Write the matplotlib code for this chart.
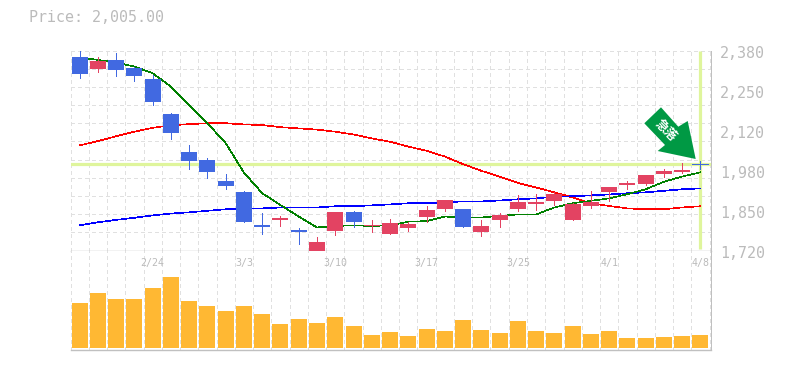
import numpy as np
import matplotlib
matplotlib.use('Agg')
import matplotlib.pyplot as plt
from matplotlib.patches import Polygon

plt.rcParams['font.family'] = ['DejaVu Sans Mono']

# candles, one entry per trading day
opens = [2358, 2320, 2349, 2322, 2286, 2170, 2045, 2019, 1949, 1913, 1804, 1821, 1788, 1720, 1784, 1847, 1801, 1774,
         1794, 1831, 1857, 1857, 1781, 1821, 1857, 1873, 1883, 1820, 1867, 1913, 1936, 1939, 1972, 1979, 2005]
closes = [2304, 2345, 2316, 2296, 2210, 2108, 2015, 1979, 1933, 1814, 1798, 1827, 1781, 1748, 1847, 1814, 1804, 1811,
          1807, 1854, 1887, 1798, 1801, 1837, 1880, 1880, 1906, 1873, 1880, 1930, 1943, 1969, 1982, 1986, 2005]
highs = [2382, 2358, 2372, 2325, 2299, 2174, 2068, 2025, 1972, 1916, 1844, 1834, 1794, 1764, 1847, 1850, 1821, 1824,
         1814, 1867, 1887, 1857, 1821, 1844, 1903, 1906, 1913, 1877, 1916, 1930, 1949, 1969, 1989, 2009, 2015]
lows = [2290, 2310, 2297, 2279, 2200, 2088, 1989, 1959, 1923, 1814, 1774, 1801, 1741, 1720, 1771, 1797, 1781, 1774,
        1784, 1814, 1850, 1798, 1768, 1798, 1850, 1854, 1870, 1820, 1860, 1883, 1923, 1936, 1962, 1976, 1989]

ma_green = [2357, 2349, 2340, 2327, 2305, 2261, 2200, 2140, 2074, 1977, 1909, 1870, 1832, 1796, 1801, 1803, 1801, 1803,
            1815, 1817, 1832, 1829, 1829, 1834, 1839, 1839, 1862, 1876, 1884, 1892, 1906, 1922, 1947, 1964, 1978]
ma_red = [2067, 2081, 2097, 2112, 2125, 2133, 2137, 2140, 2140, 2136, 2134, 2127, 2123, 2119, 2112, 2103, 2090, 2079,
          2063, 2049, 2030, 2005, 1983, 1964, 1943, 1928, 1912, 1895, 1876, 1867, 1859, 1856, 1856, 1862, 1866]
ma_blue = [1803, 1813, 1821, 1828, 1836, 1842, 1846, 1851, 1856, 1858, 1859, 1862, 1862, 1862, 1866, 1866, 1869, 1872,
           1876, 1876, 1879, 1882, 1882, 1885, 1889, 1892, 1898, 1899, 1902, 1905, 1909, 1912, 1917, 1922, 1925]

volume = [45, 55, 49, 49, 60, 71, 47, 42, 37, 42, 34, 24, 29, 25, 31, 22, 13, 16,
          12, 19, 17, 28, 18, 15, 27, 17, 15, 22, 14, 17, 10, 10, 11, 12, 13]

price_ticks = [2380, 2248, 2116, 1984, 1852, 1720]
price_labels = ['2,380', '2,250', '2,120', '1,980', '1,850', '1,720']
date_pos = [4, 9, 14, 19, 24, 29, 34]
date_labels = ['2/24', '3/3', '3/10', '3/17', '3/25', '4/1', '4/8']
last_price = 2005

GRAY = '#bbbbbb'
GRID = '#e0e0e0'
LINE = '#c0c0c0'
UP = '#e34362'
DOWN = '#4169e1'
LIME = '#dff59c'
W, H = 785, 370
PX = 0.72  # one pixel at dpi 100


def px_axes(fig, x0, y0, x1, y1):
    return fig.add_axes([x0 / W, 1 - y1 / H, (x1 - x0) / W, (y1 - y0) / H])


fig = plt.figure(figsize=(W / 100, H / 100), dpi=100)
ax = px_axes(fig, 70.5, 50.5, 710.5, 250.5)
ax2 = px_axes(fig, 70.5, 250.5, 710.5, 349.5)

x = np.arange(len(opens))
grid_x = np.arange(-0.5, 35, 1)

for a in (ax, ax2):
    a.set_xlim(-0.5, 34.55)
    a.vlines(grid_x, 0, 1, transform=a.get_xaxis_transform(), color=GRID, lw=PX, linestyle=(0, (3, 3)), zorder=1,
             clip_on=False, antialiased=False)
    a.set_yticks([])
    a.set_xticks([])
    for s in a.spines.values():
        s.set_visible(False)
    a.spines['right'].set_visible(True)
    a.spines['bottom'].set_visible(True)
    a.spines['right'].set_color(LINE)
    a.spines['bottom'].set_color(LINE)
    a.spines['right'].set_linewidth(PX)
    a.spines['bottom'].set_linewidth(1.0)

ax.set_ylim(1720, 2380)
ax.hlines(np.linspace(1720, 2380, 12)[1:], 0, 1, transform=ax.get_yaxis_transform(), color=GRID, lw=PX,
          linestyle=(0, (3, 3)), zorder=1, clip_on=False, antialiased=False)

# last price crosshair
ax.axhline(last_price, color=LIME, lw=2.3, zorder=2)
ax.vlines(x[-1], 1726, 2380, color=LIME, lw=2.3, zorder=2)

ax.plot(x, ma_red, color='#ff0000', lw=0.45, zorder=3, antialiased=False)
ax.plot(x, ma_blue, color='#0000ff', lw=0.45, zorder=3, antialiased=False)
ax.plot(x, ma_green, color='#008000', lw=0.45, zorder=3, antialiased=False)

colors = [UP if c > o else DOWN for o, c in zip(opens, closes)]
ax.vlines(x, lows, highs, colors=colors, lw=PX, zorder=4, antialiased=False)
bottoms = np.minimum(opens, closes)
heights = np.abs(np.array(closes) - np.array(opens))
ax.bar(x, heights, 0.875, bottom=bottoms, color=colors, zorder=5, linewidth=0)
ax.hlines(last_price, x[-1] - 0.44, x[-1] + 0.44, color=DOWN, lw=PX, zorder=5, antialiased=False)

ax2.set_ylim(-1.5, 97.5)
ax2.bar(x, volume, 0.875, color='#ffb833', zorder=3, linewidth=0)

# price labels sit a little below their level
for val, lab in zip(price_ticks, price_labels):
    ax.annotate(lab, (1, val), xycoords=('axes fraction', 'data'), xytext=(7, -2.2), textcoords='offset points',
                ha='left', va='center', fontsize=10.8, color=GRAY, annotation_clip=False)

for p, lab in zip(date_pos, date_labels):
    ax2.annotate(lab, (p, 1), xycoords=('data', 'axes fraction'), xytext=(0, -8.8), textcoords='offset points',
                 ha='center', va='center', fontsize=7.2, color=GRAY, annotation_clip=False)

fig.text(29 / W, 1 - 18 / H, 'Price: 2,005.00', fontsize=10.8, color=GRAY, ha='left', va='center')

# signal arrow, pixel positions on a full-figure overlay
over = fig.add_axes([0, 0, 1, 1])
over.set_xlim(0, W)
over.set_ylim(H, 0)
over.axis('off')
arrow = [(661, 107.3), (644.3, 123.3), (665, 145), (657.7, 151), (695.7, 159), (687.7, 121), (678.3, 126.7)]
over.add_patch(Polygon(arrow, closed=True, color='#009944', lw=0))
over.text(665.5, 130.5, '急落', family=['Noto Sans CJK JP'], fontsize=9, fontweight='bold', color='white', rotation=-45,
          rotation_mode='anchor', ha='center', va='center')

fig.savefig('out.png', dpi=100)
